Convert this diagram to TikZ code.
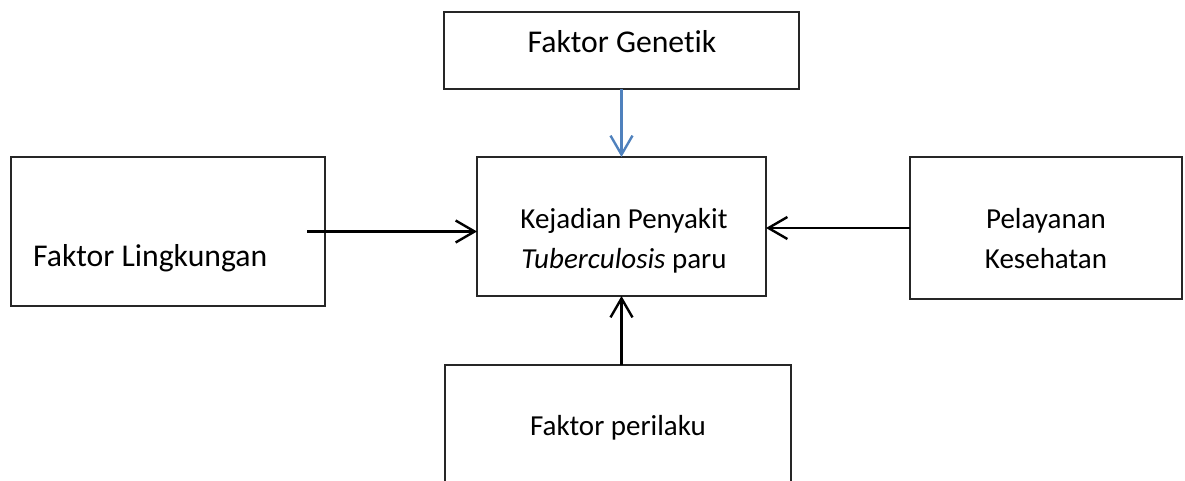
\documentclass[tikz,border=0pt]{standalone}
\usepackage{fontspec}
\setmainfont[Ligatures=NoCommon]{Carlito}
\usetikzlibrary{arrows.meta}

\begin{document}
\begin{tikzpicture}[x=1pt,y=-1pt,>={Straight Barb[length=19pt,width=22pt]},line width=2.4pt]
\tikzstyle{box}=[draw=black!85,line width=1.2pt,inner sep=0pt,outer sep=0pt]
\tikzstyle{big}=[font=\fontsize{31.7}{38}\selectfont,inner sep=0pt]
\tikzstyle{small}=[font=\fontsize{29}{40}\selectfont,inner sep=0pt,align=center]
\definecolor{genblue}{RGB}{79,129,189}
\clip (0,0) rectangle (1185,481);
% boxes
\node[box,minimum width=355,minimum height=77] (GEN) at (621.5,50.5) {};
\node[box,minimum width=289,minimum height=139] (KTB) at (621.5,226.5) {};
\node[box,minimum width=314,minimum height=149] (LNG) at (168,231.5) {};
\node[box,minimum width=272,minimum height=142] (PLY) at (1046,228) {};
\node[box,minimum width=346,minimum height=135] (PRL) at (618,432.5) {};
% labels
\node[big,anchor=base] (tGEN) at (622,53) {Faktor Genetik};
\node[big,anchor=base west] (tLNG) at (32,266) {Faktor Lingkungan};
\node[small,anchor=base] (tKTB) at (624,268) {Kejadian Penyakit\\\textit{Tuberculosis} paru};
\node[small,anchor=base] (tPLY) at (1046,268) {Pelayanan\\Kesehatan};
\node[small,anchor=base] (tPRL) at (618,435) {Faktor perilaku};
% arrows
\draw[->,genblue] (GEN) -- (KTB);
\draw[->,shorten <=-18pt] (LNG.east) -- (LNG.east -| KTB.west);
\draw[->] (PLY.west) -- (PLY.west -| KTB.east);
\draw[->] (PRL.north -| KTB.south) -- (KTB.south);
\end{tikzpicture}
\end{document}
